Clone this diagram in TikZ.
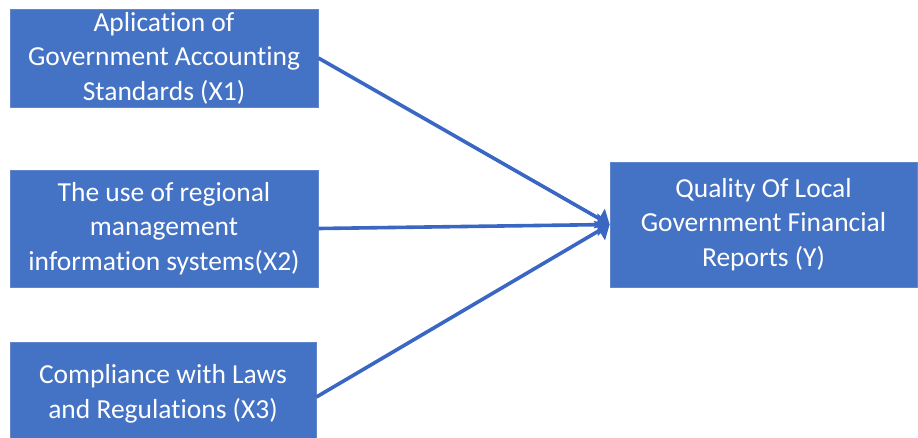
\documentclass[tikz,border=0pt]{standalone}
\usepackage{fontspec}
\setmainfont{Carlito}[Ligatures=NoCommon]
\usetikzlibrary{positioning,arrows.meta}
\definecolor{boxblue}{HTML}{4472C4}
\definecolor{lineblue}{HTML}{3A66C4}

\begin{document}
\begin{tikzpicture}[x=1pt, y=-1pt,
  varbox/.style={fill=boxblue, draw=boxblue!85!white, line width=0.8pt, text=white,
    align=center, inner sep=0pt, font=\fontsize{27.5}{34.5}\selectfont},
  link/.style={lineblue, line width=3.6pt, -{Triangle[length=12pt, width=22pt]}}]
\useasboundingbox (0,0) rectangle (918,437);
% independent variables
\node[varbox, minimum width=308pt, minimum height=98pt] (x1) at (164,58)
  {Aplication of\\Government Accounting\\Standards (X1)};
\node[varbox, minimum width=308pt, minimum height=117pt] (x2) at (164,228.5)
  {The use of regional\\management\\information systems(X2)};
\node[varbox, minimum width=306pt, minimum height=104pt] (x3) at (163,394)
  {Compliance with Laws\\and Regulations (X3)};
% dependent variable
\node[varbox, minimum width=307pt, minimum height=125pt] (y) at (763.5,224.5)
  {Quality Of Local\\Government Financial\\Reports (Y)};

\draw[link] (x1.east) -- (y.west);
\draw[link] (x2.east) -- (y.west);
\draw[link] ([yshift=-3pt]x3.east) -- (y.west);
\end{tikzpicture}
\end{document}
